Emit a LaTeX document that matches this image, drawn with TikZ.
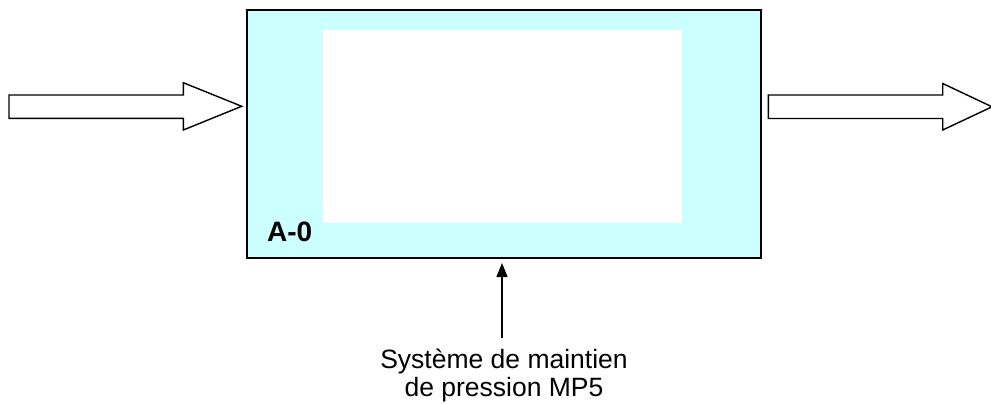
\documentclass[tikz,border=0pt]{standalone}
\usepackage{fontspec}
\setmainfont{Liberation Sans}
\usetikzlibrary{arrows.meta}
\definecolor{boxfill}{RGB}{204,255,255}
\tikzset{
  blockarrow/.style={draw=black, fill=white, line width=1.4bp, line join=miter},
  mainbox/.style={draw=black, line width=2bp, fill=boxfill, inner sep=0pt, anchor=north west},
  innerbox/.style={fill=white, inner sep=0pt, anchor=north west},
  ctrlarrow/.style={-{Triangle[width=11bp,length=14bp]}, line width=1.3bp},
  labeltext/.style={inner sep=0pt, anchor=base, font=\fontsize{26.5bp}{30bp}\selectfont},
  idtext/.style={inner sep=0pt, anchor=base west, font=\fontsize{28bp}{32bp}\selectfont\bfseries}
}
\begin{document}
\begin{tikzpicture}[x=1bp,y=-1bp]
\useasboundingbox (0,0) rectangle (991,403);
\clip (0,0) rectangle (991,403);
% main box
\node[mainbox, minimum width=514.5bp, minimum height=247.5bp] (box) at (245.5,9) {};
\node[innerbox, minimum width=359bp, minimum height=192.7bp] (inner) at (322.7,30) {};
\node[idtext] (id) at (267,241.7) {A-0};
% input block arrow
\draw[blockarrow] (9,95) -- (183.3,95) -- (183.3,82.7) -- (241.7,106.3) -- (183.3,130) -- (183.3,118.3) -- (9,118.3) -- cycle;
% output block arrow
\draw[blockarrow] (768.3,95) -- (942.7,95) -- (942.7,83.5) -- (992,106.8) -- (942.7,130) -- (942.7,118.5) -- (768.3,118.5) -- cycle;
% control arrow
\coordinate (ctrl) at (502,337.5);
\draw[ctrlarrow, shorten >=4.5bp] (ctrl) -- (ctrl |- box.south);
% label
\node[labeltext] (lab1) at (504,368) {Système de maintien};
\node[labeltext] (lab2) at (504,396.5) {de pression MP5};
\end{tikzpicture}
\end{document}
